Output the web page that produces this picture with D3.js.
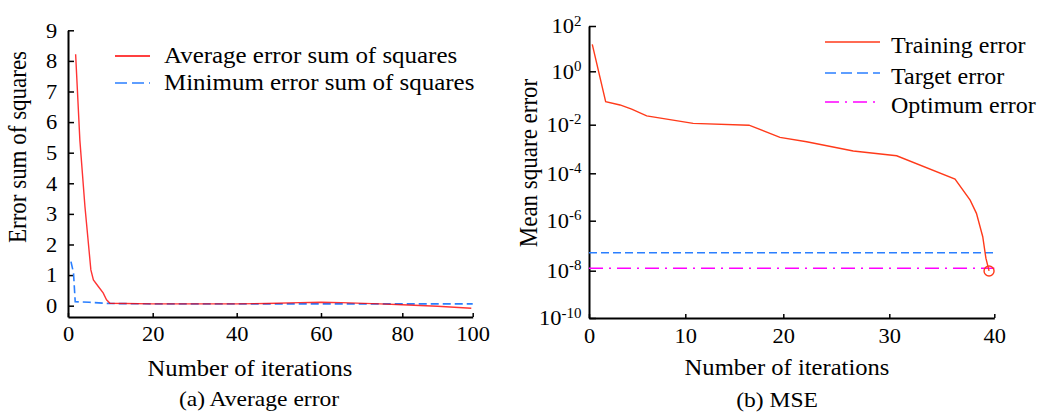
<!DOCTYPE html>
<html><head><meta charset="utf-8">
<script src="https://cdn.jsdelivr.net/npm/d3@7"></script>
<style>
html,body{margin:0;padding:0;background:#fff;}
svg{display:block;font-family:"Liberation Serif","Times New Roman",serif;}
</style></head>
<body><svg id="c" width="1042" height="413"></svg>
<script>
// ---- data (a) Average error ----
const avgIter = [1.8, 2.8, 4.0, 5.4, 6.0, 7.2, 8.3, 9.1, 9.9, 20, 40, 47, 55, 60, 65, 74.5, 80, 90, 99.6];
const avgErr  = [8.22, 5.41, 3.24, 1.17, 0.84, 0.62, 0.42, 0.19, 0.08, 0.06, 0.06, 0.07, 0.10, 0.11, 0.10, 0.06, 0.03, -0.02, -0.085];
const minIter = [0.7, 1.3, 1.7, 5, 10, 20, 40, 60, 80, 100];
const minErr  = [1.44, 1.07, 0.13, 0.11, 0.07, 0.06, 0.06, 0.06, 0.06, 0.06];
const leftXTicks = [0, 20, 40, 60, 80, 100];
const leftYTicks = [0, 1, 2, 3, 4, 5, 6, 7, 8, 9];
const leftLegend = ["Average error sum of squares", "Minimum error sum of squares"];

// ---- data (b) MSE ----
const trainIter = [0.34, 1.73, 3.22, 4.43, 5.99, 10.8, 16.5, 19.66, 22.2, 26.6, 30.7, 36.26, 37.7, 38.3, 38.9, 39.2, 39.5];
const trainLog  = [1.19, -1.14, -1.26, -1.42, -1.67, -1.95, -2.02, -2.52, -2.70, -3.08, -3.28, -4.24, -5.13, -5.69, -6.64, -7.5, -8.01];
const trainErr = trainLog.map(v => Math.pow(10, v));
const targetErr = 5.2e-8;
const optimumErr = 1.26e-8;
const rightXTicks = [0, 10, 20, 30, 40];
const rightYExp = [2, 0, -2, -4, -6, -8, -10];
const rightLegend = ["Training error", "Target error", "Optimum error"];

const svg = d3.select("#c");
const RED = "#ff0000", BLUE = "#2a7fff", ORED = "#ff3a1a", MAG = "#ff00ff";
const SX = 1.07; // horizontal stretch of the lettering

function label(x, y, txt, size, rotate, anchor, sx) {
  const s = sx || SX;
  const g = svg.append("g").attr("transform", `translate(${x},${y})` + (rotate ? ` rotate(${rotate}) scale(1,${s})` : ` scale(${s},1)`));
  return g.append("text").attr("text-anchor", anchor || "middle").attr("dy", "0.35em")
    .attr("font-size", size).text(txt);
}

// ================= Left chart =================
const xL = d3.scaleLinear().domain([0, 20, 40, 60, 80, 100]).range([68, 152.7, 236.7, 321, 402.3, 472.7]);
const yL = d3.scaleLinear().domain([-0.37, 9]).range([317, 30.3]);

svg.append("g").attr("transform", `translate(0,${yL(-0.37)})`)
  .call(d3.axisBottom(xL).tickValues(leftXTicks).tickSizeInner(-4).tickSizeOuter(0).tickPadding(9));
svg.append("g").attr("transform", `translate(${xL(0)},0)`)
  .call(d3.axisLeft(yL).tickValues(leftYTicks).tickSizeInner(-6).tickSizeOuter(0).tickPadding(10));

const lineL = d3.line().x(d => xL(d[0])).y(d => yL(d[1]));
svg.append("path").datum(minIter.map((v, i) => [v, minErr[i]]))
  .attr("d", lineL).attr("fill", "none").attr("stroke", BLUE).attr("stroke-width", 1.6).attr("stroke-dasharray", "8,4");
svg.append("path").datum(avgIter.map((v, i) => [v, avgErr[i]]))
  .attr("d", lineL).attr("fill", "none").attr("stroke", RED).attr("stroke-width", 1.4).attr("stroke-opacity", 0.8);

// legend left
[[RED, null, 56], [BLUE, "12,5", 83]].forEach((s, i) => {
  svg.append("line").attr("x1", 115).attr("x2", 150).attr("y1", s[2]).attr("y2", s[2])
    .attr("stroke", s[0]).attr("stroke-width", 1.6).attr("stroke-dasharray", s[1]);
  label(164, s[2] - 1, leftLegend[i], 24, 0, "start", 1.04);
});

label(17, 147, "Error sum of squares", 23, -90);
label(250, 368, "Number of iterations", 23);
label(259, 398, "(a) Average error", 22);

// ================= Right chart =================
const xR = d3.scaleLinear().domain([0, 10, 20, 30, 40]).range([589, 685.3, 783.3, 889.3, 994.3]);
const yR = d3.scaleLog().domain([1e2, 1e0, 1e-2, 1e-4, 1e-6, 1e-8, 1e-10]).range([26, 71.3, 124.7, 173.3, 220.7, 270.7, 318]);

svg.append("g").attr("transform", `translate(0,${yR(1e-10)})`)
  .call(d3.axisBottom(xR).tickValues(rightXTicks).tickFormat(d3.format("d")).tickSizeInner(-4).tickSizeOuter(0).tickPadding(10));
const gyR = svg.append("g").attr("transform", `translate(${xR(0)},0)`)
  .call(d3.axisLeft(yR).tickValues(rightYExp.map(e => Math.pow(10, e))).tickSizeInner(-7).tickSizeOuter(0).tickPadding(7));
gyR.selectAll(".tick text").each(function(d, i) {
  const t = d3.select(this).text(null);
  t.append("tspan").text("10");
  t.append("tspan").attr("class", "sup").attr("dy", "-0.55em").text(String(rightYExp[i]));
});

const lineR = d3.line().x(d => xR(d[0])).y(d => yR(d[1]));
svg.append("path").datum([[0, targetErr], [40, targetErr]]).attr("d", lineR)
  .attr("fill", "none").attr("stroke", BLUE).attr("stroke-width", 1.5).attr("stroke-dasharray", "8,4");
svg.append("path").datum([[0, optimumErr], [40, optimumErr]]).attr("d", lineR)
  .attr("fill", "none").attr("stroke", MAG).attr("stroke-width", 1.5).attr("stroke-dasharray", "14,6,2,6");
svg.append("path").datum(trainIter.map((v, i) => [v, trainErr[i]])).attr("d", lineR)
  .attr("fill", "none").attr("stroke", ORED).attr("stroke-width", 1.4);
const last = trainIter.length - 1;
svg.append("circle").attr("cx", xR(trainIter[last])).attr("cy", yR(trainErr[last])).attr("r", 5)
  .attr("fill", "none").attr("stroke", ORED).attr("stroke-width", 1.4);

// legend right
[[ORED, null, 42], [BLUE, "11,5", 73], [MAG, "14,6,2,6", 102]].forEach((s, i) => {
  svg.append("line").attr("x1", 825).attr("x2", 880).attr("y1", s[2]).attr("y2", s[2])
    .attr("stroke", s[0]).attr("stroke-width", 1.6).attr("stroke-dasharray", s[1]);
  label(891, s[2] + 3, rightLegend[i], 24, 0, "start", 1.0);
});

label(528, 163, "Mean square error", 23, -90);
label(787, 367, "Number of iterations", 23);
label(777, 399, "(b) MSE", 22);

// common axis styling
svg.selectAll(".domain").attr("stroke", "#000").attr("stroke-width", 2);
svg.selectAll(".tick line").attr("stroke", "#000").attr("stroke-width", 1.5);
svg.selectAll(".tick text").attr("font-size", 21).attr("fill", "#000")
  .attr("font-family", "'Liberation Serif','Times New Roman',serif")
  .attr("transform", `scale(${SX},1)`);
gyR.selectAll(".tick text .sup").attr("font-size", 14);
</script></body></html>
